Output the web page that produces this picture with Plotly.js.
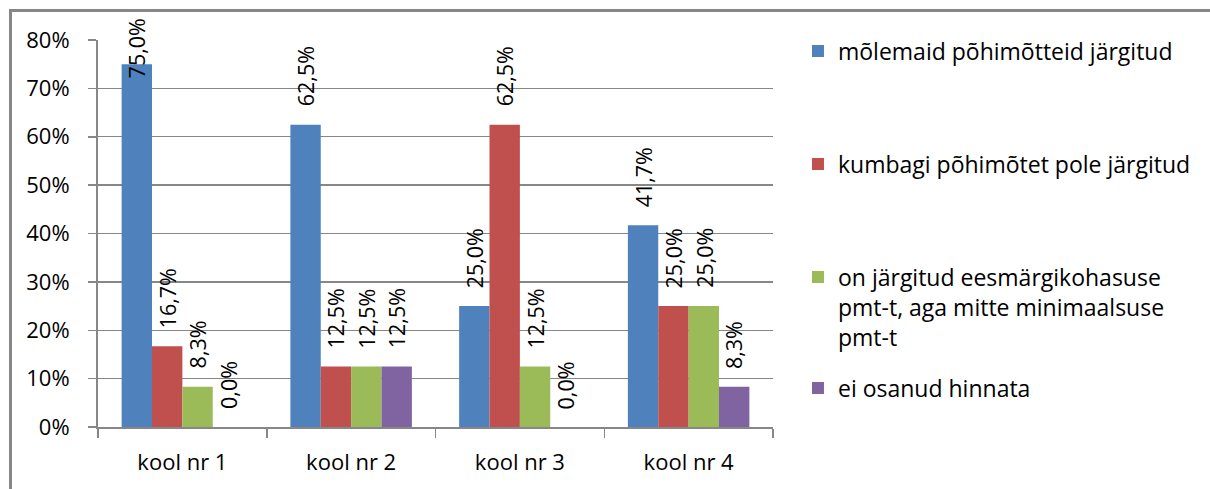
<!DOCTYPE html>
<html><head><meta charset="utf-8">
<script src="https://cdn.plot.ly/plotly-3.0.1.min.js"></script>
<style>
html,body{margin:0;padding:0;background:#fff;overflow:hidden;}
#wrap{position:relative;width:1210px;height:489px;}
#chart{width:1210px;height:489px;}
#frame{position:absolute;left:9px;top:9px;width:1210px;height:489px;border-left:3px solid #878787;border-top:3px solid #878787;pointer-events:none;}
</style>
</head><body>
<div id="wrap"><div id="chart"></div><div id="frame"></div></div>
<script>
const categories = ['kool nr 1', 'kool nr 2', 'kool nr 3', 'kool nr 4'];
const seriesNames = [
  'mõlemaid põhimõtteid järgitud',
  'kumbagi põhimõtet pole järgitud',
  'on järgitud eesmärgikohasuse<br>pmt-t, aga mitte minimaalsuse<br>pmt-t',
  'ei osanud hinnata'
];
const bothFollowed = [75.0, 62.5, 25.0, 41.7];
const neitherFollowed = [16.7, 12.5, 62.5, 25.0];
const purposeOnly = [8.3, 12.5, 12.5, 25.0];
const couldNotSay = [0.0, 12.5, 0.0, 8.3];
const yTickVals = [0, 10, 20, 30, 40, 50, 60, 70, 80];
const yTickText = ['0%', '10%', '20%', '30%', '40%', '50%', '60%', '70%', '80%'];

const seriesValues = [bothFollowed, neitherFollowed, purposeOnly, couldNotSay];
const colors = ['#4F81BD', '#C0504D', '#9BBB59', '#8064A2'];
const FONT = '"Open Sans", Lato, "Liberation Sans", sans-serif';
const bargap = 0.28;
const nSeries = seriesValues.length;
const barW = (1 - bargap) / nSeries;

function fmt(v) { return v.toFixed(1).replace('.', ',') + '%'; }

const legendNames = ['legend', 'legend2', 'legend3', 'legend4'];
const traces = seriesValues.map((vals, i) => ({
  type: 'bar',
  name: seriesNames[i],
  x: categories,
  y: vals,
  marker: { color: colors[i], line: { width: 0 } },
  legend: legendNames[i],
  hoverinfo: 'none'
}));

const annotations = [];
seriesValues.forEach((vals, i) => {
  vals.forEach((v, j) => {
    annotations.push({
      xref: 'x', yref: 'y',
      x: j + (i - (nSeries - 1) / 2) * barW,
      y: Math.min(v, 68.3),
      yshift: 16,
      xanchor: 'center', yanchor: 'bottom',
      textangle: -90,
      showarrow: false,
      text: fmt(v),
      font: { family: FONT, size: 21.5, color: '#000' }
    });
  });
});

function legendAt(y, yanchor) {
  return {
    x: 1.037, xanchor: 'left', y: y, yanchor: yanchor,
    bgcolor: 'rgba(0,0,0,0)', borderwidth: 0, valign: 'top',
    font: { family: FONT, size: 23, color: '#000' }
  };
}

const layout = {
  width: 1210, height: 489,
  margin: { l: 98, r: 437, t: 40, b: 62, pad: 0 },
  paper_bgcolor: '#fff', plot_bgcolor: '#fff',
  barmode: 'group', bargap: bargap, bargroupgap: 0,
  showlegend: true,
  font: { family: FONT, size: 21, color: '#000' },
  xaxis: {
    type: 'category',
    tickson: 'boundaries',
    ticks: 'outside', ticklen: 9, tickcolor: '#878787', tickwidth: 1.5,
    showline: true, linecolor: '#878787', linewidth: 2,
    showgrid: false, zeroline: false,
    ticklabelstandoff: 15,
    tickfont: { family: FONT, size: 22, color: '#000' }
  },
  yaxis: {
    range: [0, 80],
    tickvals: yTickVals, ticktext: yTickText,
    ticks: 'outside', ticklen: 8, tickcolor: '#878787', tickwidth: 1.5,
    showline: true, linecolor: '#878787', linewidth: 2,
    showgrid: true, gridcolor: '#878787', gridwidth: 1.3,
    zeroline: false,
    ticklabelstandoff: 14,
    tickfont: { family: FONT, size: 22, color: '#000' }
  },
  legend: legendAt(0.9716, 'middle'),
  legend2: legendAt(0.6796, 'middle'),
  legend3: legendAt(0.443, 'top'),
  legend4: legendAt(0.1008, 'middle'),
  annotations: annotations
};

Plotly.newPlot('chart', traces, layout, { staticPlot: true, displayModeBar: false });
</script>
</body></html>
